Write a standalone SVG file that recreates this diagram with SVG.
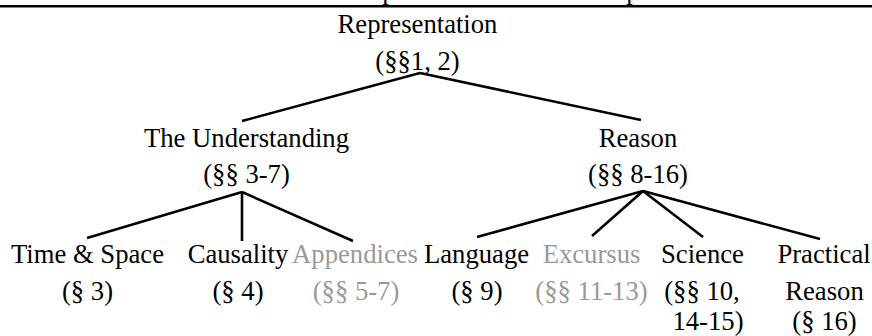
<svg xmlns="http://www.w3.org/2000/svg" width="872" height="336" viewBox="0 0 872 336">
<style>
text{font-size:26.67px;fill:#000;text-anchor:middle}
text.g{fill:#999999}
.c line{stroke:#000;stroke-width:2.6;stroke-linecap:butt}
</style>
<rect width="872" height="336" fill="#fff"/>
<g font-family="Liberation Serif, Times New Roman, serif">
<g id="header">
<line x1="0" y1="6.2" x2="872" y2="6.2" stroke="#000" stroke-width="2.4"/>
<text x="389" y="-1.5">p</text>
<text x="633" y="-1.5">p</text>
</g>
<g class="c" id="connectors">
<line x1="420" y1="73" x2="242" y2="121"/>
<line x1="420" y1="73" x2="641" y2="120"/>
<line x1="242" y1="192" x2="87" y2="238"/>
<line x1="242" y1="192" x2="242" y2="241"/>
<line x1="242" y1="192" x2="353" y2="241"/>
<line x1="643" y1="191" x2="477" y2="237"/>
<line x1="643" y1="191" x2="592" y2="236"/>
<line x1="643" y1="191" x2="703" y2="237"/>
<line x1="643" y1="191" x2="820" y2="239"/>
</g>
<g id="representation"><text x="417.5" y="33">Representation</text><text x="417.5" y="70">(§§1, 2)</text></g>
<g id="understanding"><text x="246.5" y="147">The Understanding</text><text x="246.5" y="183">(§§ 3-7)</text></g>
<g id="reason"><text x="638" y="147">Reason</text><text x="638" y="183">(§§ 8-16)</text></g>
<g id="time-space"><text x="87.5" y="263">Time &amp; Space</text><text x="87.5" y="300">(§ 3)</text></g>
<g id="causality"><text x="238" y="263">Causality</text><text x="238" y="300">(§ 4)</text></g>
<g id="appendices"><text class="g" x="355" y="263">Appendices</text><text class="g" x="356" y="300">(§§ 5-7)</text></g>
<g id="language"><text x="476.5" y="263">Language</text><text x="477" y="300">(§ 9)</text></g>
<g id="excursus"><text class="g" x="591.5" y="263">Excursus</text><text class="g" x="591.5" y="300">(§§ 11-13)</text></g>
<g id="science"><text x="702.5" y="263">Science</text><text x="702" y="300">(§§ 10,</text><text x="708" y="330">14-15)</text></g>
<g id="practical-reason"><text x="824" y="263">Practical</text><text x="824.5" y="300">Reason</text><text x="824.5" y="330">(§ 16)</text></g>
</g>
</svg>
